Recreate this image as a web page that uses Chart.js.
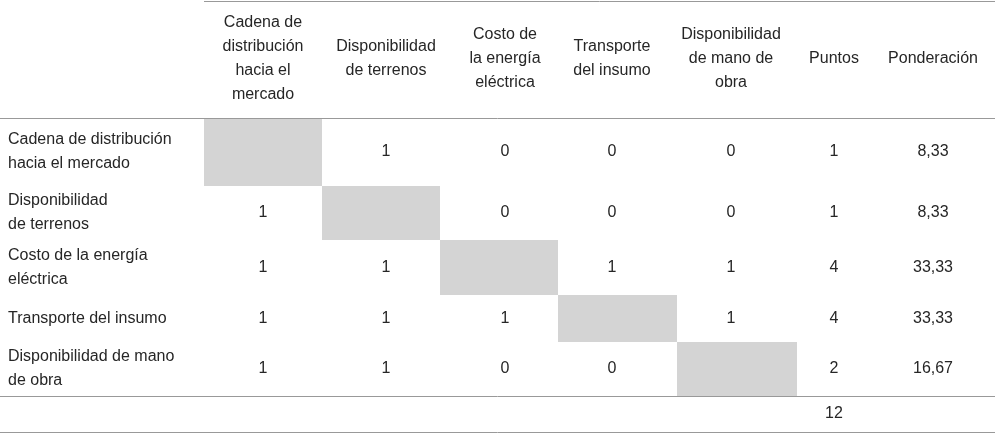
<!DOCTYPE html>
<html>
<head>
<meta charset="utf-8">
<script src="https://cdn.jsdelivr.net/npm/chart.js@4/dist/chart.umd.min.js"></script>
<style>
  body { margin: 0; background: #fff; }
  #wrap { width: 995px; height: 433px; }
</style>
</head>
<body>
<div id="wrap"><canvas id="tabla"></canvas></div>
<script>
// Datos de la matriz de comparación
const criterios = ['Cadena de distribución\nhacia el mercado', 'Disponibilidad\nde terrenos', 'Costo de la energía\neléctrica', 'Transporte del insumo', 'Disponibilidad de mano\nde obra'];
const encabezados = ['Cadena de\ndistribución\nhacia el\nmercado', 'Disponibilidad\nde terrenos', 'Costo de\nla energía\neléctrica', 'Transporte\ndel insumo', 'Disponibilidad\nde mano de\nobra', 'Puntos', 'Ponderación'];
const matriz = [
  [null, 1, 0, 0, 0],
  [1, null, 0, 0, 0],
  [1, 1, null, 1, 1],
  [1, 1, 1, null, 1],
  [1, 1, 0, 0, null]
];
const puntos = [1, 1, 4, 4, 2];
const ponderacion = ['8,33', '8,33', '33,33', '33,33', '16,67'];
const totalPuntos = 12;

// Geometría de la tabla (píxeles)
const colBordes = [0, 204, 322, 440, 558, 677, 797, 870, 995];
const colCentros = [263, 386, 505, 612, 731, 834, 933];
const filaBordes = [118, 186, 240, 295, 342, 396];
const yArriba = 1, yTotal = 432;

const tablaPlugin = {
  id: 'tabla',
  afterDraw(chart) {
    const ctx = chart.ctx;
    ctx.save();
    ctx.font = '16px "Liberation Sans", Arial, sans-serif';
    ctx.textBaseline = 'middle';

    // celdas grises en la diagonal
    ctx.fillStyle = '#d4d4d4';
    criterios.forEach((c, i) => {
      ctx.fillRect(colBordes[i + 1], filaBordes[i], colBordes[i + 2] - colBordes[i + 1], filaBordes[i + 1] - filaBordes[i]);
    });

    // líneas
    ctx.strokeStyle = '#999';
    ctx.lineWidth = 1;
    const linea = (x1, y, x2) => { ctx.beginPath(); ctx.moveTo(x1, y + 0.5); ctx.lineTo(x2, y + 0.5); ctx.stroke(); };
    linea(colBordes[1], yArriba, 995);
    linea(0, filaBordes[0], 995);
    linea(0, filaBordes[5], 995);
    linea(0, yTotal, 995);

    const lh = 24;
    const texto = (t, x, yc, align) => {
      const ls = t.split('\n');
      ctx.textAlign = align;
      ls.forEach((l, k) => ctx.fillText(l, x, yc + (k - (ls.length - 1) / 2) * lh));
    };
    ctx.fillStyle = '#262626';

    // encabezados
    encabezados.forEach((h, j) => texto(h, colCentros[j], 59, 'center'));

    // filas
    criterios.forEach((c, i) => {
      const yc = (filaBordes[i] + filaBordes[i + 1]) / 2;
      texto(c, 8, yc, 'left');
      matriz[i].forEach((v, j) => { if (v !== null) texto(String(v), colCentros[j], yc, 'center'); });
      texto(String(puntos[i]), colCentros[5], yc, 'center');
      texto(ponderacion[i], colCentros[6], yc, 'center');
    });
    texto(String(totalPuntos), colCentros[5], (filaBordes[5] + yTotal) / 2, 'center');
    ctx.restore();
  }
};

new Chart(document.getElementById('tabla').getContext('2d'), {
  type: 'bar',
  data: { labels: [], datasets: [{ data: [] }] },
  options: {
    responsive: true,
    maintainAspectRatio: false,
    animation: false,
    plugins: { legend: { display: false }, tooltip: { enabled: false } },
    scales: { x: { display: false }, y: { display: false } }
  },
  plugins: [tablaPlugin]
});
</script>
</body>
</html>
